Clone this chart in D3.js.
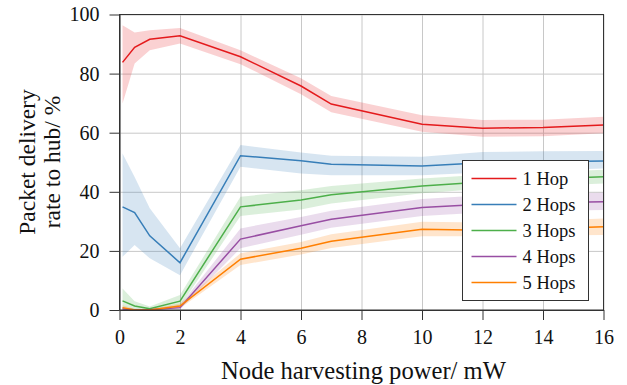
<!DOCTYPE html>
<html>
<head>
<meta charset="utf-8">
<script src="https://cdn.jsdelivr.net/npm/d3@7"></script>
<style>
  body { margin: 0; background: #fff; }
</style>
</head>
<body>
<div class="chart"></div>
<script>
// harvesting power (mW)
const power = [0.1, 0.5, 1, 2, 4, 6, 7, 10, 12, 14, 16];
const seriesNames = ['1 Hop', '2 Hops', '3 Hops', '4 Hops', '5 Hops'];
const xTicks = [0, 2, 4, 6, 8, 10, 12, 14, 16];
const yTicks = [0, 20, 40, 60, 80, 100];

const hop1 = [83.8, 88.9, 91.6, 92.8, 85.7, 75.8, 69.7, 62.9, 61.5, 61.8, 62.6];
const hop1Lo = [69.9, 83.4, 87.9, 90.2, 83.2, 73.0, 66.9, 60.3, 58.6, 58.8, 59.8];
const hop1Hi = [96.4, 93.9, 94.7, 95.4, 87.9, 78.4, 72.4, 65.9, 64.3, 64.4, 65.4];

const hop2 = [34.9, 33.0, 25.1, 16.0, 52.2, 50.5, 49.3, 48.7, 49.8, 50.2, 50.4];
const hop2Lo = [18.0, 22.0, 17.5, 11.8, 48.5, 46.2, 45.6, 45.6, 46.5, 47.3, 47.9];
const hop2Hi = [53.0, 45.0, 34.4, 20.9, 55.8, 53.3, 52.2, 51.9, 53.5, 53.7, 53.8];

const hop3 = [3.1, 1.35, 0.45, 3.0, 34.9, 37.2, 39.0, 42.0, 43.3, 44.3, 45.1];
const hop3Lo = [0.3, 0, 0, 1.2, 31.8, 34.0, 36.0, 39.5, 41.0, 42.0, 42.8];
const hop3Hi = [7.3, 3.0, 1.2, 5.1, 38.3, 40.5, 42.0, 44.5, 45.8, 46.6, 47.5];

const hop4 = [0.3, 0.1, 0.1, 0.8, 24.0, 28.5, 30.7, 34.7, 35.8, 36.3, 36.6];
const hop4Lo = [0, 0, 0, 0.2, 20.9, 25.5, 27.8, 31.8, 33.0, 33.5, 33.8];
const hop4Hi = [0.8, 0.4, 0.4, 1.6, 27.6, 31.5, 33.6, 37.6, 38.8, 39.3, 39.7];

const hop5 = [0.8, 0, 0, 1.35, 17.2, 20.9, 23.3, 27.3, 27.0, 27.5, 28.2];
const hop5Lo = [0, 0, 0, 0.6, 15.2, 18.8, 21.0, 25.0, 25.0, 25.2, 25.4];
const hop5Hi = [1.6, 0.3, 0.3, 2.2, 19.2, 23.0, 25.6, 29.9, 29.6, 30.2, 31.0];

const colors = ['#e41a1c', '#377eb8', '#4daf4a', '#984ea3', '#ff7f00'];
const FONT = '"Liberation Serif", serif';

const series = [
  { name: seriesNames[0], mean: hop1, lo: hop1Lo, hi: hop1Hi },
  { name: seriesNames[1], mean: hop2, lo: hop2Lo, hi: hop2Hi },
  { name: seriesNames[2], mean: hop3, lo: hop3Lo, hi: hop3Hi },
  { name: seriesNames[3], mean: hop4, lo: hop4Lo, hi: hop4Hi },
  { name: seriesNames[4], mean: hop5, lo: hop5Lo, hi: hop5Hi }
];

const W = 627, H = 385;
const margin = { top: 14.5, right: 23.5, bottom: 75, left: 119.5 };
const width = W - margin.left - margin.right;
const height = H - margin.top - margin.bottom;

const svg = d3.select('.chart').append('svg')
  .attr('width', W)
  .attr('height', H)
  .style('font-family', FONT);

const g = svg.append('g')
  .attr('transform', `translate(${margin.left},${margin.top})`);

const x = d3.scaleLinear().domain([0, 16]).range([0, width]);
const y = d3.scaleLinear().domain([0, 100]).range([height, 0]);

// grid
g.append('g')
  .attr('transform', `translate(0,${height})`)
  .call(d3.axisBottom(x).tickValues(xTicks).tickSize(-height).tickFormat(''))
  .call(s => s.select('.domain').remove())
  .selectAll('line').attr('stroke', '#c8c8c8');
g.append('g')
  .call(d3.axisLeft(y).tickValues(yTicks).tickSize(-width).tickFormat(''))
  .call(s => s.select('.domain').remove())
  .selectAll('line').attr('stroke', '#c8c8c8');

const idx = d3.range(power.length);

series.forEach((s, k) => {
  g.append('path')
    .datum(idx)
    .attr('fill', colors[k])
    .attr('fill-opacity', 0.2)
    .attr('d', d3.area()
      .x(i => x(power[i]))
      .y0(i => y(s.lo[i]))
      .y1(i => y(s.hi[i])));
});

series.forEach((s, k) => {
  g.append('path')
    .datum(idx)
    .attr('fill', 'none')
    .attr('stroke', colors[k])
    .attr('stroke-width', 1.5)
    .attr('d', d3.line()
      .x(i => x(power[i]))
      .y(i => y(s.mean[i])));
});

// frame
g.append('rect')
  .attr('width', width)
  .attr('height', height)
  .attr('fill', 'none')
  .attr('stroke', '#333');

const xAxis = g.append('g')
  .attr('transform', `translate(0,${height})`)
  .call(d3.axisBottom(x).tickValues(xTicks).tickSize(10).tickSizeOuter(0).tickPadding(10));
const yAxis = g.append('g')
  .call(d3.axisLeft(y).tickValues(yTicks).tickSize(10).tickSizeOuter(0).tickPadding(10));
[xAxis, yAxis].forEach(a => {
  a.attr('font-family', null).attr('font-size', null);
  a.select('.domain').attr('stroke', '#333');
  a.selectAll('line').attr('stroke', '#333');
  a.selectAll('text')
    .style('font-family', FONT)
    .style('font-size', '20px')
    .attr('fill', '#111');
});

// axis titles
svg.append('text')
  .attr('x', margin.left + width / 2 + 2)
  .attr('y', 379)
  .attr('text-anchor', 'middle')
  .style('font-family', FONT)
  .style('font-size', '24.6px')
  .attr('fill', '#111')
  .text('Node harvesting power/ mW');

const yt = svg.append('text')
  .attr('transform', `translate(0,162) rotate(-90)`)
  .attr('text-anchor', 'middle')
  .style('font-family', FONT)
  .style('font-size', '23.5px')
  .attr('fill', '#111');
yt.append('tspan').attr('x', 0).attr('y', 35).text('Packet delivery');
yt.append('tspan').attr('x', 0).attr('y', 59.5).text('rate to hub/ %');

// legend
const lg = svg.append('g').attr('transform', 'translate(462.5,160.5)');
lg.append('rect')
  .attr('width', 126)
  .attr('height', 140)
  .attr('fill', '#fff')
  .attr('stroke', '#333');
series.forEach((s, k) => {
  const ry = 18 + k * 26;
  lg.append('line')
    .attr('x1', 9).attr('x2', 54)
    .attr('y1', ry).attr('y2', ry)
    .attr('stroke', colors[k])
    .attr('stroke-width', 1.5);
  lg.append('text')
    .attr('x', 60)
    .attr('y', ry + 6)
    .style('font-family', FONT)
    .style('font-size', '18.5px')
    .attr('fill', '#111')
    .text(s.name);
});
</script>
</body>
</html>
